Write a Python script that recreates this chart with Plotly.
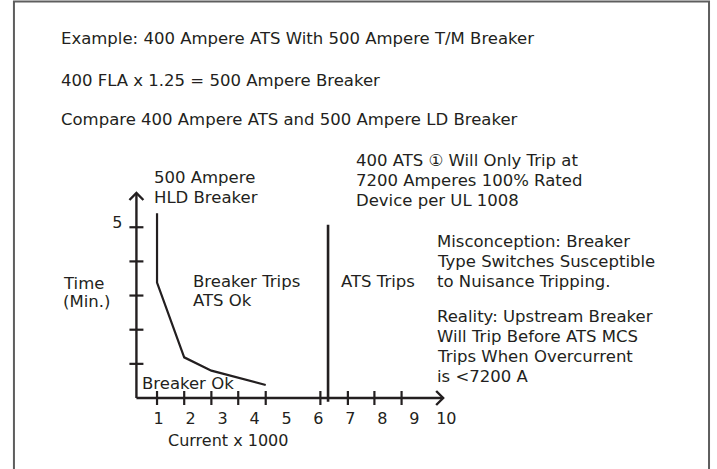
import plotly.graph_objects as go

# ---------------- data ----------------
# x: current x 1000, y: time (min.)
breaker_current = [0.95, 0.95, 1.80, 2.65, 4.35]
breaker_time = [5.41, 3.38, 1.19, 0.80, 0.38]

ats_current = [6.30, 6.30]
ats_time = [-0.11, 5.07]

x_tick_marks = [0.95, 1.80, 2.65, 3.49, 4.35, 6.06, 6.92, 7.75, 8.60]
y_tick_marks = [1, 2, 3, 4, 5]

x_label_vals = [1, 2, 3, 4, 5, 6, 7, 8, 9, 10]
x_label_text = ["1", "2", "3", "4", "5", "6", "7", "8", "9", "10"]
y_label_vals = [5]
y_label_text = ["5"]

header_lines = [
    "Example: 400 Ampere ATS With 500 Ampere T/M Breaker",
    "400 FLA x 1.25 = 500 Ampere Breaker",
    "Compare 400 Ampere ATS and 500 Ampere LD Breaker",
]
ats_note = ["400 ATS \u2460 Will Only Trip at", "7200 Amperes 100% Rated", "Device per UL 1008"]
misconception = ["Misconception: Breaker", "Type Switches Susceptible", "to Nuisance Tripping."]
reality = ["Reality: Upstream Breaker", "Will Trip Before ATS MCS", "Trips When Overcurrent", "is <7200 A"]

# ---------------- layout geometry ----------------
W, H = 717, 469
X_PX0, X_PPU = 127.2, 32.1     # pixel of x=0, pixels per x unit
Y_PX0, Y_PPU = 398.0, 34.15    # pixel of y=0, pixels per y unit


def x_at(px):
    return (px - X_PX0) / X_PPU


def y_at(py):
    return (Y_PX0 - py) / Y_PPU


def pxp(px):
    return px / W


def pyp(py):
    return 1 - py / H


DOM_L, DOM_R, DOM_T, DOM_B = 126, 455, 185, 407
ORIGIN_X = x_at(137)
X_END = x_at(445)
Y_END = y_at(193)
AX, AY = 7 / X_PPU, 7 / Y_PPU

INK = "#231f20"
FONT = "DejaVu Sans"
FS = 16.5

fig = go.Figure()

# axes lines
fig.add_trace(go.Scatter(x=[ORIGIN_X, X_END], y=[0, 0], mode="lines",
                         line=dict(color=INK, width=2.4), hoverinfo="skip"))
fig.add_trace(go.Scatter(x=[ORIGIN_X, ORIGIN_X], y=[0, Y_END], mode="lines",
                         line=dict(color=INK, width=2.4), hoverinfo="skip"))
# arrow heads
fig.add_trace(go.Scatter(x=[ORIGIN_X - AX, ORIGIN_X, ORIGIN_X + AX],
                         y=[Y_END - AY, Y_END, Y_END - AY], mode="lines",
                         line=dict(color=INK, width=2.4), hoverinfo="skip"))
fig.add_trace(go.Scatter(x=[X_END - AX, X_END, X_END - AX],
                         y=[AY, 0, -AY], mode="lines",
                         line=dict(color=INK, width=2.4), hoverinfo="skip"))
# tick marks
fig.add_trace(go.Scatter(x=x_tick_marks, y=[0] * len(x_tick_marks), mode="markers",
                         marker=dict(symbol="line-ns", size=10,
                                     line=dict(color=INK, width=2.2)),
                         cliponaxis=False, hoverinfo="skip"))
fig.add_trace(go.Scatter(x=[ORIGIN_X] * len(y_tick_marks), y=y_tick_marks, mode="markers",
                         marker=dict(symbol="line-ew", size=10,
                                     line=dict(color=INK, width=2.2)),
                         cliponaxis=False, hoverinfo="skip"))
# breaker curve
fig.add_trace(go.Scatter(x=breaker_current, y=breaker_time, mode="lines",
                         line=dict(color=INK, width=2.2), name="500 Ampere HLD Breaker"))
# ATS trip line
fig.add_trace(go.Scatter(x=ats_current, y=ats_time, mode="lines",
                         line=dict(color=INK, width=2.6), name="ATS Trips"))

fig.update_layout(
    width=W, height=H,
    margin=dict(l=0, r=0, t=0, b=0),
    paper_bgcolor="white", plot_bgcolor="rgba(0,0,0,0)",
    showlegend=False,
    font=dict(family=FONT, size=FS, color=INK),
    xaxis=dict(domain=[pxp(DOM_L), pxp(DOM_R)], range=[x_at(DOM_L), x_at(DOM_R)],
               showgrid=False, zeroline=False, showline=False, ticks="",
               tickmode="array", tickvals=x_label_vals, ticktext=x_label_text,
               tickfont=dict(family=FONT, size=16, color=INK),
               ticklabelstandoff=0, fixedrange=True),
    yaxis=dict(domain=[pyp(DOM_B), pyp(DOM_T)], range=[y_at(DOM_B), y_at(DOM_T)],
               showgrid=False, zeroline=False, showline=False, ticks="",
               tickmode="array", tickvals=y_label_vals, ticktext=y_label_text,
               tickfont=dict(family=FONT, size=16, color=INK),
               ticklabelshift=-5, ticklabelstandoff=2, fixedrange=True),
)

# frame
fig.add_shape(type="rect", xref="paper", yref="paper",
              x0=pxp(14), x1=pxp(712), y0=pyp(480), y1=pyp(1.5),
              line=dict(color="#5e5e5e", width=2), fillcolor="rgba(0,0,0,0)", layer="below")


def text(px, py, s, anchor="left", size=FS):
    fig.add_annotation(x=pxp(px), y=pyp(py), xref="paper", yref="paper", text=s,
                       showarrow=False, xanchor=anchor, yanchor="middle",
                       font=dict(family=FONT, size=size, color=INK))


for s, py in zip(header_lines, [38, 80.7, 119.3]):
    text(59, py, s)

text(152.3, 177.3, "500 Ampere")
text(152.3, 197.3, "HLD Breaker")
text(191.7, 281.3, "Breaker Trips")
text(191.7, 300.7, "ATS Ok")
text(140.7, 383, "Breaker Ok")
text(61.7, 283, "Time")
text(61.7, 301.7, "(Min.)")
text(229, 440, "Current x 1000", anchor="center", size=16)

for s, py in zip(ats_note, [160.7, 180.7, 200.7]):
    text(355, py, s)
for s, py in zip(misconception, [241.3, 261.3, 281.3]):
    text(437.3, py, s)
text(340.7, 281.3, "ATS Trips")
for s, py in zip(reality, [316.3, 336.3, 356.3, 376.3]):
    text(437.3, py, s)

fig.write_html("out.html", config={"displayModeBar": False, "staticPlot": True},
               post_script="document.body.style.margin='0';")
